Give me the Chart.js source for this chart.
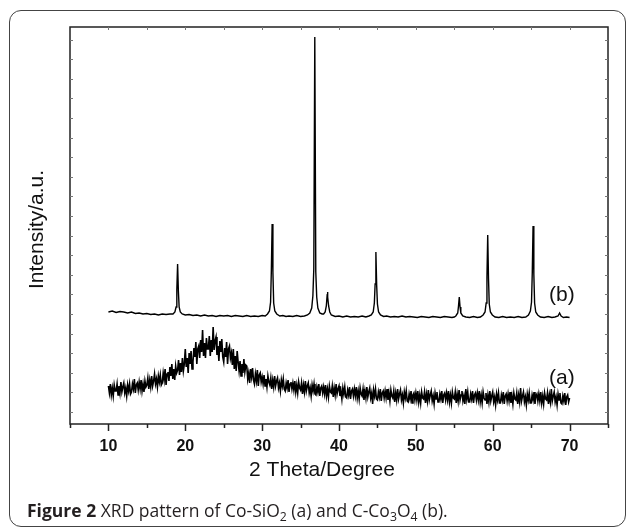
<!DOCTYPE html>
<html>
<head>
<meta charset="utf-8">
<script src="https://cdn.jsdelivr.net/npm/chart.js@4.4.1/dist/chart.umd.min.js"></script>
<style>
    html, body { margin: 0; padding: 0; background: #fff; }
    body { width: 629px; height: 529px; position: relative; overflow: hidden; }
    #frame { position: absolute; left: 9px; top: 10px; width: 615px; height: 515px; border: 1.5px solid #444; border-radius: 12px; }
    #chart { position: absolute; left: 0; top: 0; }
    #caption { position: absolute; left: 27px; top: 498px; font-family: "Open Sans", sans-serif; font-size: 17.5px; color: #231f20; white-space: nowrap; }
    #caption b { font-weight: 700; }
    #caption sub { font-size: 0.7em; vertical-align: -0.3em; line-height: 0; }
</style>
</head>
<body>
<div id="frame"></div>
<canvas id="chart" width="629" height="529"></canvas>
<div id="caption"><b>Figure 2</b> XRD pattern of Co-SiO<sub>2</sub> (a) and C-Co<sub>3</sub>O<sub>4</sub> (b).</div>
<script>
// 2 theta axis
const xTickLabels = [10, 20, 30, 40, 50, 60, 70];
const xMinorTicks = [5, 10, 15, 20, 25, 30, 35, 40, 45, 50, 55, 60, 65, 70, 75];

// (a) Co-SiO2, one row per degree, sampled every 0.125 deg from 10 to 70
const startA = 10;
const stepA = 0.125;
const intensityA = [
    38, 31, 40, 29, 36, 28, 39, 33,
    33, 40, 29, 38, 31, 42, 32, 37,
    41, 31, 36, 28, 39, 33, 40, 30,
    32, 40, 35, 45, 31, 39, 41, 34,
    42, 35, 44, 33, 40, 32, 43, 37,
    39, 46, 35, 44, 37, 48, 38, 43,
    50, 40, 45, 37, 48, 42, 49, 39,
    41, 51, 44, 55, 39, 50, 52, 43,
    57, 48, 60, 45, 55, 44, 58, 51,
    54, 64, 49, 61, 52, 66, 53, 60,
    75, 57, 66, 51, 71, 60, 73, 55,
    62, 76, 67, 82, 60, 75, 78, 66,
    84, 72, 94, 68, 81, 66, 86, 75,
    75, 88, 68, 84, 72, 97, 74, 83,
    87, 69, 78, 63, 83, 72, 85, 67,
    62, 76, 67, 82, 60, 75, 78, 66,
    71, 59, 75, 55, 68, 53, 73, 62,
    53, 63, 48, 60, 51, 65, 52, 59,
    58, 45, 51, 41, 55, 47, 56, 44,
    40, 50, 43, 54, 38, 49, 51, 42,
    47, 40, 49, 38, 45, 37, 48, 42,
    39, 46, 35, 44, 37, 48, 38, 43,
    46, 36, 41, 33, 44, 38, 45, 35,
    33, 41, 36, 44, 32, 40, 42, 35,
    41, 34, 43, 32, 39, 31, 42, 36,
    34, 41, 30, 39, 32, 43, 33, 38,
    41, 31, 36, 28, 39, 33, 40, 30,
    29, 37, 32, 40, 28, 36, 38, 31,
    37, 30, 39, 28, 35, 27, 38, 32,
    31, 38, 27, 36, 29, 40, 30, 35,
    38, 28, 33, 25, 36, 30, 37, 27,
    26, 34, 29, 37, 25, 33, 35, 28,
    35, 28, 37, 26, 33, 25, 36, 30,
    28, 35, 24, 33, 26, 37, 27, 32,
    36, 26, 31, 20, 34, 28, 35, 25,
    24, 32, 27, 35, 23, 31, 33, 26,
    33, 26, 35, 24, 31, 23, 34, 28,
    26, 33, 22, 31, 24, 35, 25, 30,
    34, 24, 29, 21, 32, 26, 33, 23,
    22, 30, 25, 33, 21, 29, 31, 24,
    31, 24, 33, 22, 29, 21, 32, 26,
    25, 32, 21, 30, 23, 34, 24, 29,
    33, 23, 28, 20, 31, 25, 32, 22,
    22, 30, 25, 33, 21, 29, 31, 24,
    31, 24, 33, 22, 29, 21, 32, 26,
    25, 32, 21, 30, 23, 34, 24, 29,
    33, 23, 28, 20, 35, 25, 32, 22,
    22, 30, 25, 33, 21, 29, 31, 24,
    31, 24, 33, 22, 29, 21, 32, 26,
    24, 31, 20, 29, 22, 33, 23, 28,
    32, 22, 27, 19, 30, 24, 31, 21,
    21, 29, 24, 32, 20, 28, 30, 23,
    30, 23, 32, 21, 28, 20, 31, 25,
    24, 31, 20, 29, 22, 36, 23, 28,
    32, 22, 27, 19, 30, 24, 31, 21,
    21, 29, 24, 32, 20, 28, 30, 23,
    30, 23, 32, 21, 28, 20, 31, 25,
    24, 31, 20, 29, 22, 35, 23, 28,
    32, 22, 27, 19, 30, 24, 31, 21,
    20, 28, 23, 31, 19, 27, 29, 22,
    26
];

// (b) C-Co3O4, [2 theta, intensity]
const patternB = [
    [10.0, 112], [10.5, 113], [11.0, 111.5], [11.5, 112.5], [12.0, 112], [12.5, 111], [13.0, 112], [13.5, 110.5],
    [14.0, 111], [14.5, 110], [15.0, 110.5], [15.5, 109.5], [16.0, 110], [16.5, 109], [17.0, 110], [17.5, 109.5],
    [18.0, 110], [18.4, 110], [18.65, 112], [18.8, 117], [18.9, 134], [19.0, 160], [19.1, 133], [19.2, 117],
    [19.35, 112], [19.6, 110], [20.0, 109], [20.5, 109.5], [21.0, 108.5], [21.5, 109], [22.0, 108], [22.5, 109],
    [23.0, 108], [23.5, 108.5], [24.0, 107.5], [24.5, 108.5], [25.0, 108], [25.5, 108.5], [26.0, 107.5], [26.5, 108.5],
    [27.0, 108], [27.5, 107.5], [28.0, 108.5], [28.5, 107.5], [29.0, 108], [29.5, 107.5], [30.0, 108.5], [30.4, 108],
    [30.7, 110], [30.95, 113], [31.1, 122], [31.2, 154], [31.3, 200], [31.4, 152], [31.5, 121], [31.65, 113],
    [31.9, 110], [32.3, 108], [32.7, 108.5], [33.1, 107.5], [33.5, 108], [34.0, 107.5], [34.5, 108.5], [35.0, 107.5],
    [35.5, 108], [35.9, 109], [36.2, 111], [36.45, 116], [36.6, 128], [36.72, 155], [36.85, 387],
    [36.98, 152], [37.1, 127], [37.25, 116], [37.5, 111], [37.8, 110], [38.0, 110], [38.2, 112],
    [38.35, 118], [38.45, 128], [38.5, 132], [38.55, 127], [38.65, 118], [38.8, 112], [39.0, 109], [39.5, 107.5],
    [40.0, 108], [40.5, 107], [41.0, 108], [41.5, 107], [42.0, 107.5], [42.5, 107], [43.0, 108], [43.5, 107],
    [43.9, 108], [44.2, 109], [44.45, 112], [44.6, 121], [44.7, 140], [44.8, 172], [44.9, 139], [45.0, 120],
    [45.15, 112], [45.4, 109], [45.8, 107.5], [46.2, 108], [46.7, 107], [47.2, 107.5], [47.7, 107], [48.2, 108],
    [48.7, 107], [49.2, 107.5], [49.7, 107], [50.2, 106.5], [50.7, 107.5], [51.2, 107], [51.7, 106.5], [52.2, 107.5],
    [52.7, 107], [53.2, 106.5], [53.7, 107.5], [54.2, 107], [54.7, 106.5], [55.0, 107], [55.2, 108], [55.45, 111],
    [55.55, 118], [55.65, 127], [55.75, 117], [55.85, 111], [56.1, 108], [56.5, 107], [57.0, 106.5], [57.5, 107.5],
    [58.0, 106.5], [58.4, 107], [58.75, 109], [59.0, 112], [59.15, 121], [59.25, 147], [59.35, 189], [59.45, 146],
    [59.55, 120], [59.7, 112], [59.95, 109], [60.3, 107], [60.8, 106.5], [61.3, 107.5], [61.8, 106.5], [62.3, 107],
    [62.8, 106.5], [63.3, 107.5], [63.8, 106.5], [64.3, 107], [64.65, 109], [64.9, 113], [65.05, 122], [65.15, 152],
    [65.25, 198], [65.35, 150], [65.45, 121], [65.6, 112], [65.85, 109], [66.2, 107], [66.7, 106.5], [67.2, 107.5],
    [67.7, 106.5], [68.1, 107], [68.5, 108], [68.7, 111], [68.9, 108], [69.2, 106.5], [69.6, 107], [70.0, 106.5]
];

const angleA = intensityA.map((_, i) => startA + i * stepA);

// frame, ticks, titles and the (a)/(b) tags
const decor = {
    id: "decor",
    afterDraw(chart) {
        const { ctx, chartArea: a, scales: { x, y } } = chart;
        ctx.save();

        ctx.strokeStyle = "#222";
        ctx.lineWidth = 1.5;
        ctx.strokeRect(a.left, a.top, a.right - a.left, a.bottom - a.top);

        ctx.beginPath();
        xMinorTicks.forEach((v) => {
            const px = Math.round(x.getPixelForValue(v)) + 0.5;
            const len = v % 10 === 0 ? 7 : 4;
            ctx.moveTo(px, a.bottom);
            ctx.lineTo(px, a.bottom + len);
        });
        ctx.stroke();

        ctx.strokeStyle = "#777";
        ctx.lineWidth = 1;
        ctx.beginPath();
        xMinorTicks.slice(1, -1).forEach((v) => {
            const px = Math.round(x.getPixelForValue(v)) + 0.5;
            ctx.moveTo(px, a.top);
            ctx.lineTo(px, a.top + 3);
        });
        for (let v = 12; v < 390; v += 19.6) {
            const py = Math.round(y.getPixelForValue(v)) + 0.5;
            ctx.moveTo(a.left, py);
            ctx.lineTo(a.left + 3, py);
            ctx.moveTo(a.right, py);
            ctx.lineTo(a.right - 3, py);
        }
        ctx.stroke();

        ctx.fillStyle = "#111";
        ctx.font = '21px "Liberation Sans", Arial, sans-serif';
        ctx.textAlign = "center";
        ctx.textBaseline = "middle";
        ctx.fillText("2 Theta/Degree", a.left + 252, a.bottom + 46);

        ctx.fillText("(b)", x.getPixelForValue(69.0), y.getPixelForValue(129));
        ctx.fillText("(a)", x.getPixelForValue(69.0), y.getPixelForValue(46));

        ctx.translate(a.left - 33, (a.top + a.bottom) / 2 + 4);
        ctx.rotate(-Math.PI / 2);
        ctx.fillText("Intensity/a.u.", 0, 0);
        ctx.restore();
    }
};

const ctx = document.getElementById("chart").getContext("2d");
new Chart(ctx, {
    type: "line",
    data: {
        datasets: [
            {
                label: "(a)",
                data: angleA.map((v, i) => ({ x: v, y: intensityA[i] })),
                borderColor: "#000",
                borderWidth: 1.6,
                pointRadius: 0,
                tension: 0,
            },
            {
                label: "(b)",
                data: patternB.map(([v, i]) => ({ x: v, y: i })),
                borderColor: "#000",
                borderWidth: 1.4,
                pointRadius: 0,
                tension: 0,
            },
        ],
    },
    options: {
        responsive: false,
        animation: false,
        layout: { padding: { left: 70, top: 27, right: 21, bottom: 65 } },
        plugins: { legend: { display: false }, tooltip: { enabled: false } },
        scales: {
            x: {
                type: "linear",
                min: 5,
                max: 75,
                grid: { display: false, drawTicks: false },
                border: { display: false },
                afterBuildTicks: (s) => { s.ticks = xTickLabels.map((v) => ({ value: v })); },
                afterFit: (s) => { s.height = 40; },
                ticks: {
                    font: { family: '"Liberation Sans", Arial, sans-serif', size: 16, weight: "bold" },
                    color: "#111",
                    padding: 13,
                    maxRotation: 0,
                    autoSkip: false,
                },
            },
            y: { display: false, min: 0, max: 397 },
        },
    },
    plugins: [decor],
});
</script>
</body>
</html>
